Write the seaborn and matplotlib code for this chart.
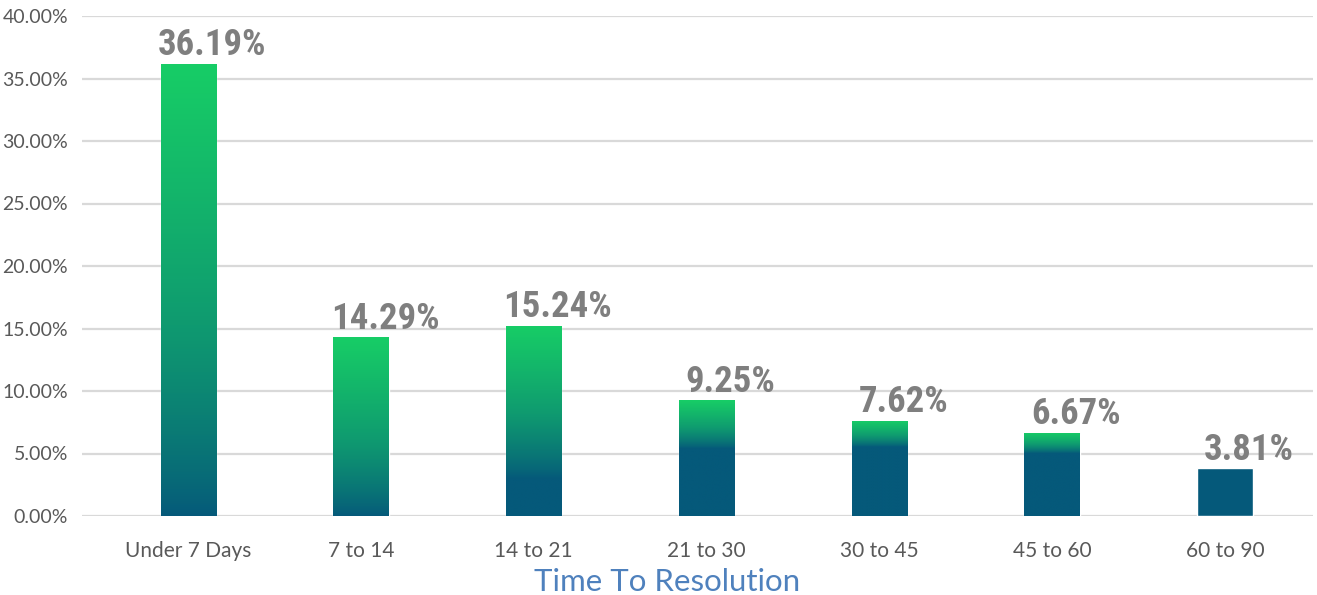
import numpy as np
import pandas as pd
import matplotlib
matplotlib.use("Agg")
import matplotlib.pyplot as plt
import seaborn as sns
from matplotlib.colors import LinearSegmentedColormap
from matplotlib.ticker import FuncFormatter
from matplotlib import font_manager as fm

categories = ["Under 7 Days", "7 to 14", "14 to 21", "21 to 30", "30 to 45", "45 to 60", "60 to 90"]
values = [36.19, 14.29, 15.24, 9.25, 7.62, 6.67, 3.81]
value_labels = ["36.19%", "14.29%", "15.24%", "9.25%", "7.62%", "6.67%", "3.81%"]
y_ticks = [0, 5, 10, 15, 20, 25, 30, 35, 40]
x_title = "Time To Resolution"

# style: where the dark-to-green gradient starts within each bar (data units)
grad_start = [0.0, 0.0, 3.0, 5.4, 5.5, 5.0, 99.0]

DARK = "#05597a"
GREEN = "#17cd66"
cmap = LinearSegmentedColormap.from_list("g", [DARK, "#0f9a70", GREEN])

sns.set_theme(style="white")
plt.rcParams["font.family"] = ["Lato", "DejaVu Sans"]

# pick a condensed bold font if one is installed
names = {f.name for f in fm.fontManager.ttflist}
label_family = None
for cand in ["Liberation Sans Narrow", "Roboto Condensed", "Open Sans Condensed",
             "DejaVu Sans Condensed"]:
    if cand in names:
        label_family = cand
        break
label_kw = {}
if label_family:
    label_kw["family"] = [label_family, "DejaVu Sans"]
else:
    label_kw["family"] = ["DejaVu Sans"]
    label_kw["fontstretch"] = "condensed"

fig = plt.figure(figsize=(13.17, 5.95), dpi=100)
ax = fig.add_axes([82 / 1317, 1 - 516 / 595, (1313 - 82) / 1317, 500 / 595])

df = pd.DataFrame({"cat": categories, "val": values})
sns.barplot(data=df, x="cat", y="val", ax=ax, color=DARK, width=0.32,
            saturation=1, zorder=2)

ax.set_ylim(0, 40)
ax.set_xlim(-0.615, 6.51)

for i, p in enumerate(ax.patches):
    x0 = p.get_x()
    w = p.get_width()
    h = p.get_height()
    gs = grad_start[i]
    if gs < h:
        n = 256
        yy = np.linspace(0, h, n)
        frac = np.clip((yy - gs) / (h - gs), 0, 1) ** 0.8
        im = ax.imshow(frac.reshape(-1, 1), cmap=cmap, vmin=0, vmax=1, origin="lower",
                       extent=[x0, x0 + w, 0, h], aspect="auto", zorder=3,
                       interpolation="bilinear")
        im.set_clip_path(p)
    ax.text(x0 + w / 2 + 0.14, h + 0.05, value_labels[i], ha="center", va="bottom",
            fontsize=26.5, fontweight="bold", color="#7f7f7f", zorder=4, **label_kw)

ax.set_aspect("auto")
ax.set_yticks(y_ticks)
ax.yaxis.set_major_formatter(FuncFormatter(lambda v, _: f"{v:.2f}%"))
ax.grid(axis="y", color="#d9d9d9", linewidth=1.6, zorder=0)
ax.set_axisbelow(True)
for s in ax.spines.values():
    s.set_visible(False)
ax.tick_params(axis="y", labelsize=14, labelcolor="#595959", length=0, pad=10)
ax.tick_params(axis="x", labelsize=15, labelcolor="#595959", length=0, pad=18)
ax.set_ylabel("")
ax.set_xlabel(x_title, fontsize=22.5, color="#4f81bd")
ax.xaxis.set_label_coords((667 - 82) / 1231, -(582 - 516) / 500, transform=ax.transAxes)
ax.xaxis.label.set_va("center")

fig.savefig("out.png", dpi=100)
